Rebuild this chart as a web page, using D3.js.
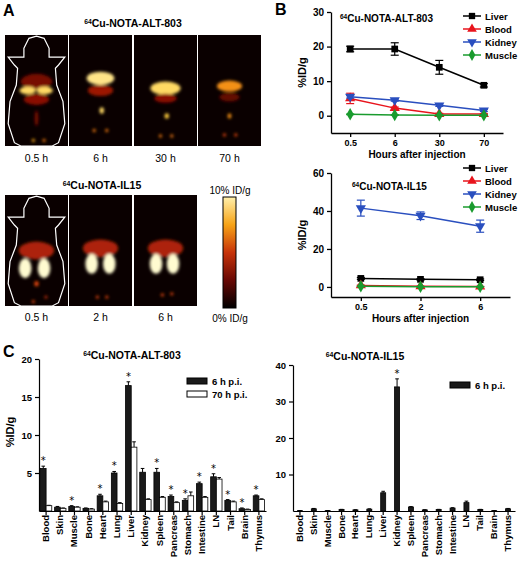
<!DOCTYPE html>
<html><head><meta charset="utf-8">
<script src="https://cdn.jsdelivr.net/npm/d3@7"></script>
<style>body{margin:0;background:#fff}svg{font-family:"Liberation Sans",Arial,sans-serif}</style>
</head><body>
<svg id="c" width="520" height="564"></svg>
<script>
// ---------- DATA ----------
const timesALT = ["0.5","6","30","70"];
const liverALT = [19.3,19.3,14.0,8.8], liverALTerr=[0.8,1.8,2.0,0.5];
const bloodALT = [5.0,2.2,0.5,0.5], bloodALTerr=[1.5,0.3,0.2,0.1];
const kidneyALT = [5.5,4.5,3.0,1.5], kidneyALTerr=[0.4,0.3,0.3,0.3];
const muscleALT = [0.4,0.2,0.1,0.1], muscleALTerr=[0.1,0.1,0.1,0.1];
const timesIL = ["0.5","2","6"];
const liverIL = [4.5,4.0,3.8], liverILerr=[0.5,0.4,0.4];
const bloodIL = [0.8,0.3,0.2], bloodILerr=[0.2,0.1,0.1];
const kidneyIL = [41.5,37.5,32.0], kidneyILerr=[4.2,2.0,3.2];
const muscleIL = [0.3,0.1,0.1], muscleILerr=[0.1,0.1,0.1];
const organs = ["Blood","Skin","Muscle","Bone","Heart","Lung","Liver","Kidney","Spleen","Pancreas","Stomach","Intestine","LN","Tail","Brain","Thymus"];
const alt6h  = [5.6,0.5,0.6,0.35,2.0,5.0,16.5,5.1,5.1,1.9,1.4,3.6,4.5,1.4,0.3,2.0];
const alt6hErr=[0.3,0.1,0.1,0.05,0.2,0.2,0.5,0.5,0.5,0.2,0.2,0.2,0.4,0.1,0.1,0.1];
const alt70h = [0.7,0.35,0.5,0.25,1.2,1.0,8.4,1.5,1.8,1.1,2.0,1.8,4.2,1.2,0.2,1.5];
const alt70hErr=[0.05,0.05,0.05,0.05,0.1,0.1,0.7,0.1,0.1,0.1,0.5,0.1,0.2,0.1,0.05,0.1];
const altStar = [1,0,1,0,1,1,1,0,1,1,1,1,1,1,1,1];
const il6h = [0.1,0.6,0.1,0.4,0.3,0.5,5.0,34.0,1.1,0.3,0.4,0.8,2.3,0.4,0.1,0.6];
const il6hErr=[0.02,0.1,0.02,0.05,0.05,0.1,0.4,2.2,0.1,0.05,0.05,0.1,0.4,0.05,0.02,0.1];
const ilStar = [0,0,0,0,0,0,0,1,0,0,0,0,0,0,0,0];
const rowALT = ["0.5 h","6 h","30 h","70 h"];
const rowIL = ["0.5 h","2 h","6 h"];
// hot spots for PET images [x,y,rx,ry,intensity] in relative units
const petALT = [
 [[0.5,0.42,0.25,0.07,0.3],[0.36,0.5,0.13,0.035,0.95],[0.63,0.5,0.13,0.035,0.95],[0.5,0.58,0.2,0.05,0.35],[0.5,0.75,0.03,0.07,0.3],[0.45,0.95,0.025,0.015,0.8],[0.62,0.95,0.025,0.015,0.7]],
 [[0.5,0.39,0.22,0.06,1],[0.5,0.5,0.2,0.05,0.4],[0.52,0.68,0.035,0.03,0.95],[0.4,0.86,0.025,0.015,0.7],[0.6,0.86,0.025,0.015,0.7]],
 [[0.5,0.48,0.24,0.06,0.95],[0.5,0.57,0.18,0.04,0.35],[0.52,0.73,0.035,0.025,0.9],[0.42,0.91,0.025,0.015,0.7],[0.6,0.91,0.025,0.015,0.7]],
 [[0.5,0.46,0.2,0.05,0.75],[0.5,0.56,0.16,0.04,0.25],[0.5,0.73,0.03,0.025,0.75],[0.42,0.9,0.025,0.015,0.6],[0.6,0.9,0.025,0.015,0.6]]];
const petIL = [
 [[0.5,0.5,0.28,0.08,0.45],[0.32,0.66,0.1,0.09,1.1],[0.62,0.66,0.1,0.09,1.1],[0.5,0.8,0.035,0.025,0.6],[0.45,0.96,0.025,0.015,0.6],[0.65,0.92,0.025,0.015,0.5]],
 [[0.5,0.48,0.28,0.08,0.45],[0.36,0.62,0.1,0.09,1.1],[0.64,0.62,0.1,0.09,1.1],[0.45,0.92,0.025,0.015,0.6],[0.6,0.92,0.025,0.015,0.6]],
 [[0.5,0.48,0.28,0.08,0.45],[0.35,0.62,0.1,0.09,1.1],[0.62,0.62,0.1,0.09,1.1],[0.45,0.9,0.025,0.015,0.6],[0.6,0.89,0.025,0.015,0.6]]];

// ---------- DRAW ----------
const svg = d3.select("#c");
const heat = d3.scaleLinear().domain([0,0.35,0.6,0.85,1.1]).range(["#000","#8b0a05","#e0450a","#ffc21a","#fffbd0"]).clamp(true);
const defs = svg.append("defs");
defs.append("filter").attr("id","blur").attr("x","-50%").attr("y","-50%").attr("width","200%").attr("height","200%")
  .append("feGaussianBlur").attr("stdDeviation",1.4);
const lg = defs.append("linearGradient").attr("id","cb").attr("x1",0).attr("y1",1).attr("x2",0).attr("y2",0);
[0,0.25,0.5,0.75,1].forEach(t=>lg.append("stop").attr("offset",t).attr("stop-color",heat(t*1.05)));

function letter(t,x,y){svg.append("text").attr("x",x).attr("y",y).attr("font-size",16).attr("font-weight","bold").text(t);}
function title(x,y,name,anchor="middle",fs=10.5){
  const t=svg.append("text").attr("x",x).attr("y",y).attr("text-anchor",anchor).attr("font-size",fs).attr("font-weight","bold");
  t.append("tspan").attr("font-size",fs*0.65).attr("dy",-3).text("64");
  t.append("tspan").attr("dy",3).text(name);
}
letter("A",3,16); letter("B",275,15); letter("C",3,357);

const outline = "M0.3,0.12 L0.38,0.03 L0.5,0.01 L0.62,0.03 L0.7,0.12 L0.7,0.2 L0.95,0.2 L0.85,0.27 L0.8,0.3 L0.82,0.45 L0.92,0.6 L0.95,0.8 L0.85,0.97 L0.75,1 L0.25,1 L0.15,0.97 L0.05,0.8 L0.08,0.6 L0.18,0.45 L0.2,0.3 L0.15,0.27 L0.05,0.2 L0.3,0.2 Z";
function petRow(data,labels,xs,w,y0,h,ly){
  data.forEach((spots,i)=>{
    const g=svg.append("g").attr("transform",`translate(${xs[i]},${y0})`);
    g.append("rect").attr("width",w).attr("height",h).attr("fill","#0a0000");
    const cl="clip"+y0+i;
    defs.append("clipPath").attr("id",cl).append("rect").attr("width",w).attr("height",h);
    const gg=g.append("g").attr("clip-path",`url(#${cl})`).append("g").attr("filter","url(#blur)");
    spots.forEach(s=>gg.append("ellipse").attr("cx",s[0]*w).attr("cy",s[1]*h).attr("rx",s[2]*w).attr("ry",s[3]*h).attr("fill",heat(s[4])));
    if(i===0){
      const p=outline.replace(/([\d.]+),([\d.]+)/g,(m,a,b)=>(a*w).toFixed(1)+","+(b*h).toFixed(1));
      g.append("path").attr("d",p).attr("fill","none").attr("stroke","#fff").attr("stroke-width",1.2);
    }
    svg.append("text").attr("x",xs[i]+w/2).attr("y",ly).attr("text-anchor","middle").attr("font-size",10.5).text(labels[i]);
  });
}
title(133,27,"Cu-NOTA-ALT-803");
petRow(petALT,rowALT,[5,69,134,198],63,35,111,162);
title(102,189,"Cu-NOTA-IL15");
petRow(petIL,rowIL,[5,69,134],63,195,111,321);
svg.append("rect").attr("x",223).attr("y",197).attr("width",13).attr("height",111).attr("fill","url(#cb)").attr("stroke","#000");
svg.append("text").attr("x",230).attr("y",194).attr("text-anchor","middle").attr("font-size",10).text("10% ID/g");
svg.append("text").attr("x",230).attr("y",322).attr("text-anchor","middle").attr("font-size",10).text("0% ID/g");

// ---- Panel B line charts ----
const series = [["Liver","#000","square"],["Blood","#e8141c","triangle"],["Kidney","#2a4fbf","triangledown"],["Muscle","#1a9b2e","diamond"]];
function sym(type,size){
  if(type==="triangledown") return d3.symbol(d3.symbolTriangle,size)();
  return d3.symbol({square:d3.symbolSquare,triangle:d3.symbolTriangle,diamond:d3.symbolDiamond}[type],size)();
}
function lineChart(o){
  const x=d3.scalePoint().domain(o.times).range([o.x0,o.x1]).padding(o.pad);
  const y=d3.scaleLinear().domain(o.dom).range([o.y1,o.y0]);
  const g=svg.append("g");
  g.append("g").attr("transform",`translate(0,${o.y1})`).call(d3.axisBottom(x).tickSize(4).tickSizeOuter(0))
   .call(a=>a.selectAll("text").attr("font-size",9).attr("font-weight","bold").attr("font-family","Liberation Sans"));
  g.append("g").attr("transform",`translate(${o.x0},0)`).call(d3.axisLeft(y).tickValues(o.ticks).tickSize(4).tickSizeOuter(0))
   .call(a=>a.selectAll("text").attr("font-size",10).attr("font-weight","bold").attr("font-family","Liberation Sans"));
  g.selectAll(".domain,.tick line").attr("stroke","#000").attr("stroke-width",1.3);
  o.data.forEach((d,si)=>{
    const [name,col,type]=series[si];
    g.append("path").datum(d.v).attr("fill","none").attr("stroke",col).attr("stroke-width",1.5)
     .attr("d",d3.line().x((v,i)=>x(o.times[i])).y(v=>y(v)));
    d.v.forEach((v,i)=>{
      const cx=x(o.times[i]);
      g.append("line").attr("x1",cx).attr("x2",cx).attr("y1",y(v-d.e[i])).attr("y2",y(v+d.e[i])).attr("stroke",col).attr("stroke-width",1.2);
      [v-d.e[i],v+d.e[i]].forEach(e=>g.append("line").attr("x1",cx-4).attr("x2",cx+4).attr("y1",y(e)).attr("y2",y(e)).attr("stroke",col).attr("stroke-width",1.2));
      g.append("path").attr("d",sym(type,45)).attr("fill",col)
       .attr("transform",`translate(${cx},${y(v)})${type==="triangledown"?" rotate(180)":""}`);
    });
    const ly=o.ly+si*13;
    g.append("line").attr("x1",o.lx-9).attr("x2",o.lx+9).attr("y1",ly).attr("y2",ly).attr("stroke",col).attr("stroke-width",1.5);
    g.append("path").attr("d",sym(type,40)).attr("fill",col).attr("transform",`translate(${o.lx},${ly})${type==="triangledown"?" rotate(180)":""}`);
    g.append("text").attr("x",o.lx+13).attr("y",ly+3.5).attr("font-size",9.5).attr("font-weight","bold").text(name);
  });
  svg.append("text").attr("x",(o.x0+o.x1)/2).attr("y",o.y1+25).attr("text-anchor","middle").attr("font-size",10).attr("font-weight","bold").text("Hours after injection");
  svg.append("text").attr("transform",`translate(${o.x0-25},${(o.y0+o.y1)/2}) rotate(-90)`).attr("text-anchor","middle").attr("font-size",11).attr("font-weight","bold").text("%ID/g");
}
lineChart({times:timesALT,x0:331,x1:503,pad:0.43,y0:12,y1:133,dom:[-5,30],ticks:[0,10,20,30],lx:472,ly:16,
  data:[{v:liverALT,e:liverALTerr},{v:bloodALT,e:bloodALTerr},{v:kidneyALT,e:kidneyALTerr},{v:muscleALT,e:muscleALTerr}]});
title(340,22,"Cu-NOTA-ALT-803","start",10);
lineChart({times:timesIL,x0:331,x1:510,pad:0.5,y0:173,y1:297,dom:[-5.3,60],ticks:[0,20,40,60],lx:472,ly:168,
  data:[{v:liverIL,e:liverILerr},{v:bloodIL,e:bloodILerr},{v:kidneyIL,e:kidneyILerr},{v:muscleIL,e:muscleILerr}]});
title(352,190,"Cu-NOTA-IL15","start",10);

// ---- Panel C bar charts ----
function barChart(o){
  const x=d3.scaleBand().domain(organs).range([o.x0,o.x1]).paddingInner(0.2).paddingOuter(0.1);
  const y=d3.scaleLinear().domain(o.dom).range([o.y1,o.y0]);
  const g=svg.append("g");
  const bw=o.sets.length===2?x.bandwidth()/2:x.bandwidth()*0.45;
  o.sets.forEach((s,si)=>{
    organs.forEach((org,i)=>{
      const bx=o.sets.length===2?x(org)+si*bw:x(org)+(x.bandwidth()-bw)/2;
      const v=s.v[i],e=s.e[i],cx=bx+bw/2;
      g.append("line").attr("x1",cx).attr("x2",cx).attr("y1",y(v)).attr("y2",y(v+e)).attr("stroke","#000");
      g.append("line").attr("x1",cx-1.8).attr("x2",cx+1.8).attr("y1",y(v+e)).attr("y2",y(v+e)).attr("stroke","#000");
      g.append("rect").attr("x",bx).attr("y",y(v)).attr("width",bw).attr("height",y(0)-y(v))
       .attr("fill",s.fill).attr("stroke","#000").attr("stroke-width",0.8);
    });
  });
  organs.forEach((org,i)=>{ if(o.stars[i]){
    g.append("text").attr("x",x(org)+(o.sets.length===2?bw/2:x.bandwidth()/2)).attr("y",y(o.sets[0].v[i]+o.sets[0].e[i])-2)
     .attr("text-anchor","middle").attr("font-size",10).attr("fill","#000").attr("font-family","DejaVu Sans").text("*");
  }});
  const ax=g.append("g").attr("transform",`translate(0,${o.y1})`).call(d3.axisBottom(x).tickSize(4).tickSizeOuter(0));
  ax.selectAll("text").attr("transform","rotate(-90)").attr("text-anchor","end").attr("dx",-4).attr("dy",3).attr("x",0).attr("y",0)
    .attr("font-size",9.5).attr("font-weight","bold").attr("font-family","Liberation Sans");
  const ay=g.append("g").attr("transform",`translate(${o.x0},0)`).call(d3.axisLeft(y).tickValues(o.ticks).tickSize(4).tickSizeOuter(0));
  ay.selectAll("text").attr("font-size",9.5).attr("font-weight","bold").attr("font-family","Liberation Sans");
  g.selectAll(".domain,.tick line").attr("stroke","#000").attr("stroke-width",1.2);
  o.legend.forEach((l,i)=>{
    g.append("rect").attr("x",o.lx).attr("y",o.ly+i*13).attr("width",20).attr("height",6).attr("fill",l[1]).attr("stroke","#000");
    g.append("text").attr("x",o.lx+25).attr("y",o.ly+i*13+6.5).attr("font-size",9.5).attr("font-weight","bold").text(l[0]);
  });
}
barChart({x0:39,x1:266,y0:359,y1:511,dom:[0,20],ticks:[5,10,15,20],
  sets:[{v:alt6h,e:alt6hErr,fill:"#1a1a1a"},{v:alt70h,e:alt70hErr,fill:"#fff"}],stars:altStar,
  legend:[["6 h p.i.","#1a1a1a"],["70 h p.i.","#fff"]],lx:187,ly:378});
svg.append("text").attr("transform","translate(14,432) rotate(-90)").attr("text-anchor","middle").attr("font-size",11).attr("font-weight","bold").text("%ID/g");
title(132,359,"Cu-NOTA-ALT-803","middle",10.5);
barChart({x0:293,x1:515,y0:365,y1:511,dom:[0,40],ticks:[10,20,30,40],
  sets:[{v:il6h,e:il6hErr,fill:"#1a1a1a"}],stars:ilStar,legend:[["6 h p.i.","#1a1a1a"]],lx:450,ly:382});
title(365,360,"Cu-NOTA-IL15","middle",10.5);
</script>
</body></html>
